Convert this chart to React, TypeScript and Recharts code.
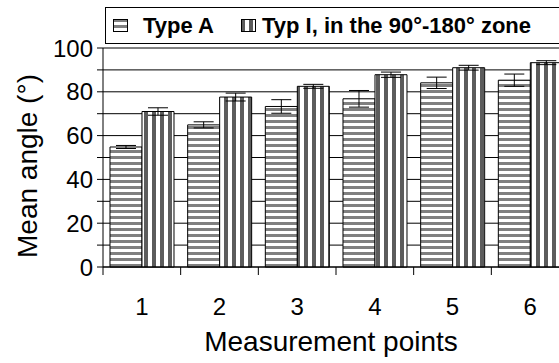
import {
  BarChart,
  Bar,
  XAxis,
  YAxis,
  CartesianGrid,
  ErrorBar,
  Legend,
  Label,
} from 'recharts';

const categories = ['1', '2', '3', '4', '5', '6'];
const typeA = [54.8, 64.9, 73.3, 76.8, 84.1, 85.3];
const typeAErr = [0.7, 1.4, 3.1, 3.8, 2.6, 2.8];
const typeI = [71.0, 77.6, 82.5, 87.8, 91.0, 93.3];
const typeIErr = [1.7, 1.8, 0.9, 1.2, 1.1, 0.9];
const yTicks = [0, 10, 20, 30, 40, 50, 60, 70, 80, 90, 100];
const seriesOrder = ['a', 'i'];

const FONT = '"Liberation Sans", Arial, Helvetica, sans-serif';
const TICK_SIZE = 8;
const TICK_MARGIN = 2;

const chartData = categories.map((c, i) => ({
  point: c,
  a: typeA[i],
  aErr: typeAErr[i],
  i: typeI[i],
  iErr: typeIErr[i],
}));

// category label plus a tick on the left edge of the band
function BandTick(props: any) {
  const { x, y, payload } = props;
  const half = payload?.offset ?? 0;
  const axisY = y - TICK_SIZE - TICK_MARGIN;
  return (
    <g>
      <line x1={x - half} x2={x - half} y1={axisY} y2={axisY + TICK_SIZE} stroke="#000" strokeWidth={1} />
      <text x={x} y={axisY + 48} textAnchor="middle" fontSize={24} fontFamily={FONT} fill="#000">
        {payload.value}
      </text>
    </g>
  );
}

function LegendBox({ payload }: any) {
  const items = [...(payload ?? [])].sort(
    (p: any, q: any) => seriesOrder.indexOf(p.dataKey) - seriesOrder.indexOf(q.dataKey)
  );
  return (
    <div
      style={{
        position: 'relative',
        height: 35,
        border: '1px solid #000',
        background: '#fff',
        fontFamily: FONT,
        fontWeight: 'bold',
        fontSize: 22,
        color: '#000',
      }}
    >
      {items.map((it: any, idx: number) => (
        <div
          key={idx}
          style={{
            position: 'absolute',
            left: idx === 0 ? 7 : 135,
            top: 0,
            height: 35,
            display: 'flex',
            alignItems: 'center',
            whiteSpace: 'nowrap',
          }}
        >
          <svg width={15} height={13} style={{ marginRight: idx === 0 ? 15 : 6 }}>
            <rect x={0.5} y={0.5} width={14} height={12} fill={it.color} stroke="#000" />
          </svg>
          <span>{it.value}</span>
        </div>
      ))}
    </div>
  );
}

export default function App() {
  return (
    <div style={{ position: 'fixed', left: 0, top: 0, width: 559, height: 363, overflow: 'hidden', background: '#fff' }}>
      <BarChart
        width={600}
        height={363}
        data={chartData}
        margin={{ top: 48, right: 31, left: 0, bottom: 0 }}
        barCategoryGap="9%"
        barGap={0}
      >
        <defs>
          <pattern id="hstripe" patternUnits="userSpaceOnUse" width={6} height={6}>
            <rect width={6} height={6} fill="#fff" />
            <rect y={0} width={6} height={3} fill="#808080" />
          </pattern>
          <pattern id="vstripe" patternUnits="userSpaceOnUse" width={8} height={8}>
            <rect width={8} height={8} fill="#fff" />
            <rect x={0} width={4} height={8} fill="#5c5c5c" />
          </pattern>
        </defs>
        <CartesianGrid horizontal vertical={false} stroke="#000" strokeWidth={1} />
        <XAxis
          dataKey="point"
          height={96}
          axisLine={{ stroke: '#000' }}
          tickLine={false}
          tickSize={TICK_SIZE}
          tickMargin={TICK_MARGIN}
          tick={<BandTick />}
          interval={0}
        >
          <Label
            content={() => (
              <text x={331} y={351} textAnchor="middle" fontSize={28} fontFamily={FONT} fill="#000">
                Measurement points
              </text>
            )}
          />
        </XAxis>
        <YAxis
          width={103}
          domain={[0, 100]}
          ticks={yTicks}
          interval={0}
          axisLine={{ stroke: '#000' }}
          tickLine={{ stroke: '#000' }}
          tickSize={6}
          tickMargin={4}
          tick={{ fill: '#000', fontSize: 24, fontFamily: FONT }}
          tickFormatter={(v: number) => (v % 20 === 0 ? String(v) : '')}
        >
          <Label
            content={() => (
              <text
                x={37}
                y={166}
                transform="rotate(-90 37 166)"
                textAnchor="middle"
                fontSize={28}
                fontFamily={FONT}
                fill="#000"
              >
                Mean angle (°)
              </text>
            )}
          />
        </YAxis>
        <Legend
          layout="horizontal"
          verticalAlign="middle"
          align="center"
          wrapperStyle={{ left: 105, top: 7, width: 480 }}
          content={<LegendBox />}
        />
        <Bar dataKey="a" name="Type A" fill="url(#hstripe)" stroke="#000" strokeWidth={1} isAnimationActive={false}>
          <ErrorBar dataKey="aErr" width={10} stroke="#000" strokeWidth={1} />
        </Bar>
        <Bar
          dataKey="i"
          name="Typ I, in the 90°-180° zone"
          fill="url(#vstripe)"
          stroke="#000"
          strokeWidth={1}
          isAnimationActive={false}
        >
          <ErrorBar dataKey="iErr" width={10} stroke="#000" strokeWidth={1} />
        </Bar>
      </BarChart>
    </div>
  );
}
